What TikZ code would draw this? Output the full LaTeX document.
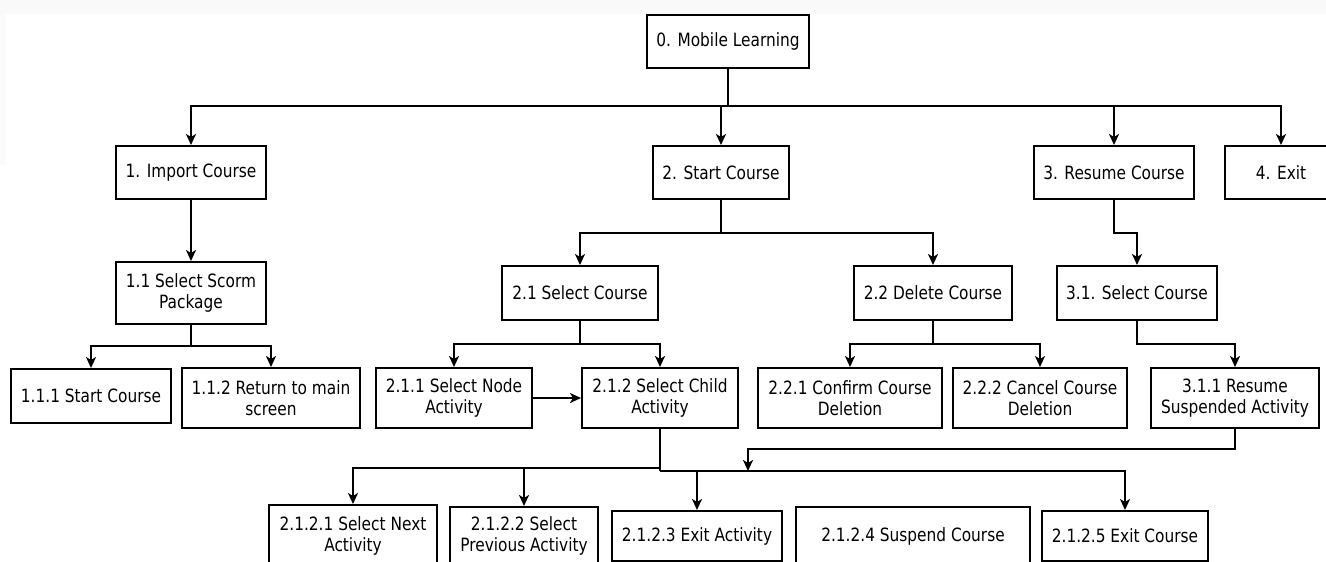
\documentclass[tikz,border=0pt]{standalone}
\usepackage{fontspec}
\setmainfont{DejaVu Sans}[FakeStretch=0.84]
\usetikzlibrary{arrows.meta}

\tikzset{
  box/.style={draw, line width=2pt, rectangle, inner sep=0pt, align=center,
    font=\fontsize{18.3}{20.5}\selectfont},
  link/.style={line width=2pt},
  arr/.style={link, -{Stealth[length=11pt,width=10pt,inset=3pt]}}
}

\begin{document}
\begin{tikzpicture}[x=1pt,y=-1pt]
  \clip (0,0) rectangle (1326,562);
  \fill[white] (0,0) rectangle (1326,562);
  % faint header band
  \fill[gray!5] (0,0) rectangle (1326,14);
  \fill[gray!3] (0,14) rectangle (6,165);

  % level 0
  \node[box, minimum width=162pt, minimum height=53pt] (n0) at (728,41.5) {0. Mobile Learning};

  % level 1
  \node[box, minimum width=150pt, minimum height=53pt] (n1) at (191,172.5) {1. Import Course};
  \node[box, minimum width=136pt, minimum height=53pt] (n2) at (721,172.5) {2. Start Course};
  \node[box, minimum width=160pt, minimum height=53pt] (n3) at (1114,172.5) {3. Resume Course};
  \node[box, minimum width=112pt, minimum height=53pt] (n4) at (1281,172.5) {4. Exit};

  % level 2
  \node[box, minimum width=150pt, minimum height=62pt] (n11) at (191,293) {1.1 Select Scorm\\Package};
  \node[box, minimum width=156pt, minimum height=54pt] (n21) at (580,293) {2.1 Select Course};
  \node[box, minimum width=158pt, minimum height=54pt] (n22) at (933,293) {2.2 Delete Course};
  \node[box, minimum width=160pt, minimum height=54pt] (n31) at (1137,293) {3.1. Select Course};

  % level 3
  \node[box, minimum width=160pt, minimum height=54pt] (n111) at (91,396) {1.1.1 Start Course};
  \node[box, minimum width=178pt, minimum height=60pt] (n112) at (271,398) {1.1.2 Return to main\\screen};
  \node[box, minimum width=156pt, minimum height=60pt] (n211) at (454,398) {2.1.1 Select Node\\Activity};
  \node[box, minimum width=156pt, minimum height=60pt] (n212) at (660,398) {2.1.2 Select Child\\Activity};
  \node[box, minimum width=184pt, minimum height=60pt] (n221) at (850,398) {2.2.1 Confirm Course\\Deletion};
  \node[box, minimum width=174pt, minimum height=60pt] (n222) at (1040,398) {2.2.2 Cancel Course\\Deletion};
  \node[box, minimum width=168pt, minimum height=60pt] (n311) at (1235,398) {3.1.1 Resume\\Suspended Activity};

  % level 4
  \node[box, minimum width=168pt, minimum height=62pt] (n2121) at (353,536) {2.1.2.1 Select Next\\Activity};
  \node[box, minimum width=148pt, minimum height=58pt] (n2122) at (524,536) {2.1.2.2 Select\\Previous Activity};
  \node[box, minimum width=170pt, minimum height=50pt] (n2123) at (697,536) {2.1.2.3 Exit Activity};
  \node[box, minimum width=234pt, minimum height=58pt] (n2124) at (913,536) {2.1.2.4 Suspend Course};
  \node[box, minimum width=166pt, minimum height=50pt] (n2125) at (1125,536) {2.1.2.5 Exit Course};

  % branch points
  \coordinate (b0) at (728,106);
  \coordinate (b2) at (721,233);
  \coordinate (b3) at (1114,233);
  \coordinate (b11) at (191,346);
  \coordinate (b21) at (580,344);
  \coordinate (b22) at (933,344);
  \coordinate (b31) at (1137,344);
  \coordinate (bL) at (660,468);
  \coordinate (bR) at (660,471);
  \coordinate (c311) at (1235,449);
  \coordinate (jn) at (748,471);

  % connectors
  \draw[link] (n0.south) -- (b0);
  \draw[arr] (b0) -| (n1.north);
  \draw[arr] (b0) -| (n2.north);
  \draw[arr] (b0) -| (n3.north);
  \draw[arr] (b0) -| (n4.north);

  \draw[arr] (n1.south) -- (n11.north);

  \draw[link] (n2.south) -- (b2);
  \draw[arr] (b2) -| (n21.north);
  \draw[arr] (b2) -| (n22.north);

  \draw[arr] (n3.south) -- (b3) -| (n31.north);

  \draw[link] (n11.south) -- (b11);
  \draw[arr] (b11) -| (n111.north);
  \draw[arr] (b11) -| (n112.north);

  \draw[link] (n21.south) -- (b21);
  \draw[arr] (b21) -| (n211.north);
  \draw[arr] (b21) -| (n212.north);

  \draw[link] (n22.south) -- (b22);
  \draw[arr] (b22) -| (n221.north);
  \draw[arr] (b22) -| (n222.north);

  \draw[arr] (n31.south) -- (b31) -| (n311.north);

  \draw[arr] (n211.east) -- (n212.west);

  \draw[link] (n212.south) -- (bR);
  \draw[arr] (bL) -| (n2121.north);
  \draw[arr] (bL) -| (n2122.north);
  \draw[arr] (bR) -| (n2123.north);
  \draw[arr] (bR) -| (n2125.north);

  \draw[arr] (n311.south) -- (c311) -| (jn);
\end{tikzpicture}
\end{document}
